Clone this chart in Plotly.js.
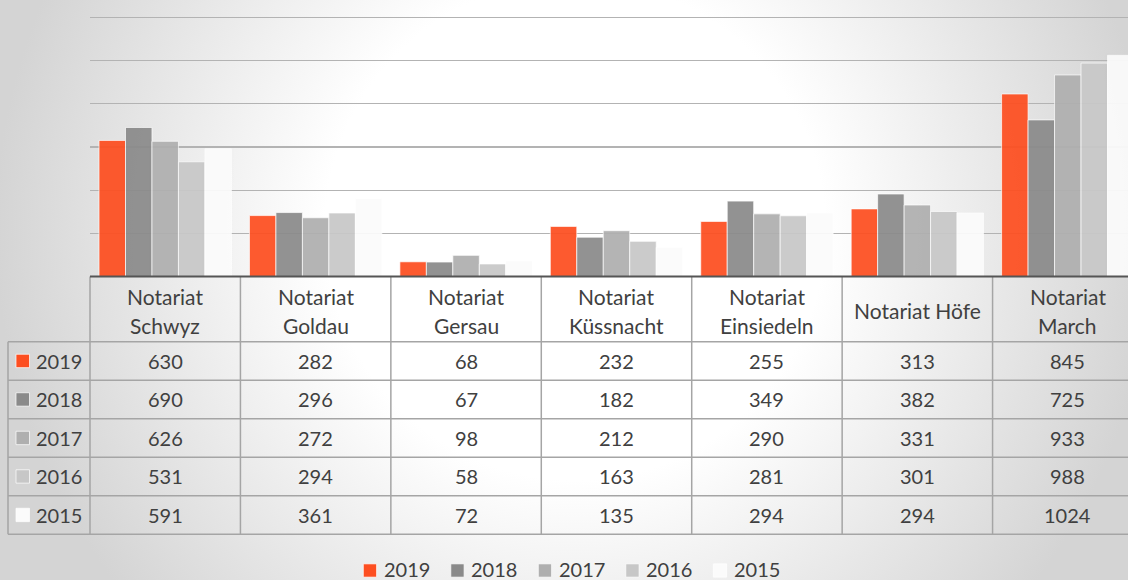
<!DOCTYPE html>
<html><head><meta charset="utf-8">
<script src="https://cdn.plot.ly/plotly-3.0.1.min.js"></script>
<style>
html,body{margin:0;padding:0;overflow:hidden;width:1128px;height:580px;}
#wrap{width:1128px;height:580px;overflow:hidden;background:radial-gradient(circle at 575px 230px,#ffffff 0px,#ffffff 250px,#d4d4d4 580px);}
#chart{width:1143px;height:580px;}
</style></head><body><div id="wrap"><div id="chart"></div></div>
<script>
// ---- data ----
const categories = ['Notariat Schwyz','Notariat Goldau','Notariat Gersau','Notariat Küssnacht','Notariat Einsiedeln','Notariat Höfe','Notariat March'];
const headerLabels = [['Notariat','Schwyz'],['Notariat','Goldau'],['Notariat','Gersau'],['Notariat','Küssnacht'],['Notariat','Einsiedeln'],['Notariat Höfe'],['Notariat','March']];
const years = ['2019','2018','2017','2016','2015'];
const v2019 = [630,282,68,232,255,313,845];
const v2018 = [690,296,67,182,349,382,725];
const v2017 = [626,272,98,212,290,331,933];
const v2016 = [531,294,58,163,281,301,988];
const v2015 = [591,361,72,135,294,294,1024];
const seriesValues = [v2019,v2018,v2017,v2016,v2015];
const colors = ['#fd4e20','#8a8a8a','#afafaf','#c7c7c7','#fbfbfb'];

// ---- layout geometry (pixels) ----
const W = 1143, H = 580;
const L = 90, plotBot = 276.5, pxPerUnit = (276.5 - 17.3) / 1200;
const yMax = 1205;
const plotTop = plotBot - yMax * pxPerUnit;
const catW = (W - L) / categories.length;
const headerBot = 341.7, rowH = 38.5;
const tableLeft = 8;
const px = x => x / W;
const py = y => 1 - y / H;
const FONT = 'Lato, "Open Sans", sans-serif';
const TXT = '#404040';
const BORDER = '#a5a5a5';

const traces = years.map((yr, k) => ({
  type: 'bar', name: yr, x: categories, y: seriesValues[k],
  marker: {color: colors[k], opacity: 0.93, line: {color: 'rgba(255,255,255,0.7)', width: 1}},
  hoverinfo: 'x+y+name'
}));

const shapes = [];
const annotations = [];
const colX = i => L + i * catW;

for (let i = 0; i <= categories.length; i++) {
  shapes.push({type:'line', xref:'paper', yref:'paper', x0:px(colX(i)), x1:px(colX(i)), y0:py(plotBot), y1:py(headerBot + years.length*rowH), line:{color:BORDER, width:1.5}});
}
shapes.push({type:'line', xref:'paper', yref:'paper', x0:px(tableLeft), x1:px(tableLeft), y0:py(headerBot), y1:py(headerBot + years.length*rowH), line:{color:BORDER, width:1.5}});
for (let r = 0; r <= years.length; r++) {
  const y = headerBot + r * rowH;
  shapes.push({type:'line', xref:'paper', yref:'paper', x0:px(tableLeft), x1:1, y0:py(y), y1:py(y), line:{color:BORDER, width:1.5}});
}
shapes.push({type:'line', xref:'paper', yref:'paper', x0:px(L), x1:1, y0:py(plotBot), y1:py(plotBot), line:{color:'#555555', width:2}});

headerLabels.forEach((lines, i) => {
  const cx = colX(i) + catW/2;
  const ys = lines.length === 2 ? [296, 325] : [310.5];
  lines.forEach((t, j) => annotations.push({xref:'paper', yref:'paper', x:px(cx), y:py(ys[j]), text:t, showarrow:false, xanchor:'center', yanchor:'middle', font:{family:FONT, size:21, color:TXT}}));
});
years.forEach((yr, r) => {
  const cy = headerBot + (r + 0.5) * rowH;
  seriesValues[r].forEach((v, i) => {
    annotations.push({xref:'paper', yref:'paper', x:px(colX(i) + catW/2), y:py(cy), text:String(v), showarrow:false, xanchor:'center', yanchor:'middle', font:{family:FONT, size:20, color:TXT}});
  });
  shapes.push({type:'rect', xref:'paper', yref:'paper', x0:px(16), x1:px(29.5), y0:py(cy-6.7), y1:py(cy+6.7), fillcolor:colors[r], line:{color:'rgba(255,255,255,0.7)', width:1}});
  annotations.push({xref:'paper', yref:'paper', x:px(34), y:py(cy), text:yr, showarrow:false, xanchor:'left', yanchor:'middle', font:{family:FONT, size:20, color:TXT}});
});
const legX0 = 363.3, legPitch = 87.5, legY = 568.5, sq = 13.3;
years.forEach((yr, k) => {
  const x0 = legX0 + k * legPitch;
  shapes.push({type:'rect', xref:'paper', yref:'paper', x0:px(x0), x1:px(x0+sq), y0:py(legY+2-sq/2), y1:py(legY+2+sq/2), fillcolor:colors[k], line:{color:'rgba(255,255,255,0.7)', width:1}});
  annotations.push({xref:'paper', yref:'paper', x:px(x0+sq+5), y:py(legY), text:yr, showarrow:false, xanchor:'left', yanchor:'middle', font:{family:FONT, size:20, color:TXT}});
});

const layout = {
  width: W, height: H,
  margin: {l:0, r:0, t:0, b:0, pad:0},
  paper_bgcolor: 'rgba(0,0,0,0)', plot_bgcolor: 'rgba(0,0,0,0)',
  barmode: 'group', bargap: 0.12, bargroupgap: 0,
  showlegend: false,
  xaxis: {type:'category', domain:[px(L), 1], range:[-0.5, categories.length - 0.5], showticklabels:false, showgrid:false, showline:false, zeroline:false, ticks:'', fixedrange:true},
  yaxis: {domain:[py(plotBot), py(plotTop)], range:[0, yMax], dtick:200, showticklabels:false, showgrid:true, gridcolor:'#b3b3b3', gridwidth:1.2, zeroline:false, showline:false, ticks:'', fixedrange:true},
  shapes: shapes,
  annotations: annotations,
  font: {family: FONT, color: TXT}
};
Plotly.newPlot('chart', traces, layout, {displayModeBar:false, staticPlot:true});
</script></body></html>
